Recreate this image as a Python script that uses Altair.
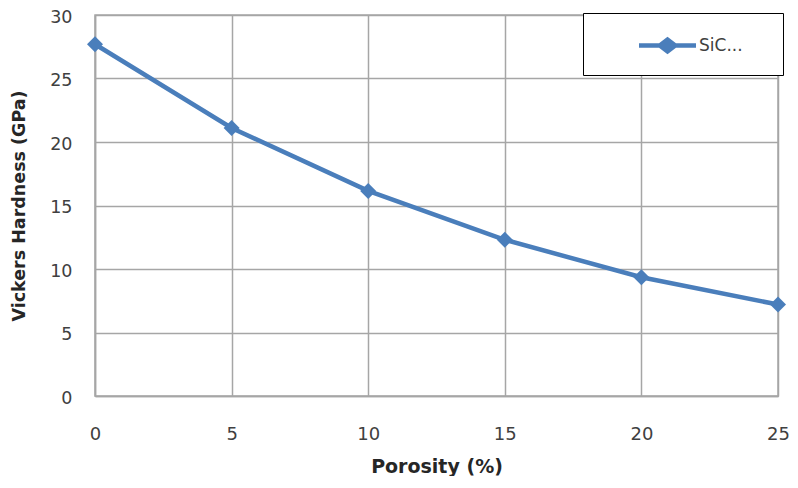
import altair as alt
import pandas as pd

porosity = [0, 5, 10, 15, 20, 25]
hardness = [27.7, 21.1, 16.15, 12.3, 9.35, 7.2]
series = ["SiC..."] * len(porosity)

df = pd.DataFrame({"Porosity": porosity, "Hardness": hardness, "Series": series})

BLUE = "#4A7EBB"
GRID = "#A6A6A6"
FONT = "DejaVu Sans"

# line + diamond legend symbol (custom path in unit box)
sym_path = ("M-2.28,-0.18 L-0.68,-0.18 L0,-0.7 L0.68,-0.18 L2.28,-0.18 "
            "L2.28,0.18 L0.68,0.18 L0,0.7 L-0.68,0.18 L-2.28,0.18 Z")

x = alt.X("Porosity:Q", scale=alt.Scale(domain=[0, 25], nice=False),
          axis=alt.Axis(values=[0, 5, 10, 15, 20, 25], title="Porosity (%)",
                        labelFlush=False, labelPadding=29, titlePadding=14,
                        titleFontSize=19))
y = alt.Y("Hardness:Q", scale=alt.Scale(domain=[0, 30], nice=False),
          axis=alt.Axis(values=[0, 5, 10, 15, 20, 25, 30], title="Vickers Hardness (GPa)",
                        labelFlush=False, labelOffset=2, labelPadding=23, titlePadding=21,
                        labelFontSize=17.5, titleFontSize=17.5))

line = alt.Chart(df).mark_line(color=BLUE, strokeWidth=4.5).encode(x=x, y=y)
pts = alt.Chart(df).mark_point(shape="diamond", filled=True, size=256, opacity=1).encode(
    x=x, y=y,
    color=alt.Color("Series:N", scale=alt.Scale(range=[BLUE]),
                    legend=alt.Legend(
                        title=" ", titleOrient="right", titlePadding=20, titleFontSize=17,
                        orient="none", legendX=488, legendY=-2,
                        padding=20, fillColor="white", strokeColor="black",
                        symbolType=sym_path, symbolSize=625, symbolStrokeWidth=0,
                        symbolOffset=52, labelOffset=19,
                        labelFont=FONT, labelFontSize=17, labelColor="#404040",
                    )),
)

chart = alt.layer(line, pts).properties(
    width=683, height=381,
    background="white",
    autosize=alt.AutoSizeParams(type="none"),
    padding={"left": 87, "top": 7, "right": 12, "bottom": 80},
).configure_axis(
    grid=True, gridColor=GRID, gridWidth=1.5,
    domainColor=GRID, domainWidth=1.5, ticks=False,
    labelFont=FONT, labelFontSize=18, labelColor="#404040",
    titleFont=FONT, titleFontWeight="bold", titleColor="#262626",
).configure_view(stroke=GRID, strokeWidth=1.5)

chart.save("out.html", embed_options={"renderer": "svg", "actions": False})
